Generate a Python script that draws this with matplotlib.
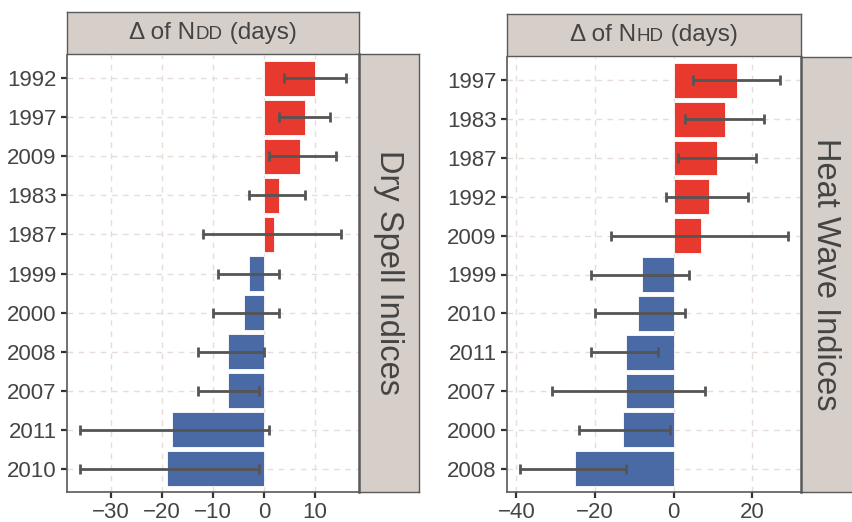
import numpy as np
import matplotlib
matplotlib.use('Agg')
import matplotlib.pyplot as plt
from matplotlib.offsetbox import TextArea, HPacker, AnchoredOffsetbox

plt.rcParams['font.family'] = ['Liberation Sans', 'DejaVu Sans']

# Dry spell (NDD)
dry_years = ['1992', '1997', '2009', '1983', '1987', '1999', '2000', '2008', '2007', '2011', '2010']
dry_vals = [10, 8, 7, 3, 2, -3, -4, -7, -7, -18, -19]
dry_lo = [4, 3, 1, -3, -12, -9, -10, -13, -13, -36, -36]
dry_hi = [16, 13, 14, 8, 15, 3, 3, 0, -1, 1, -1]
dry_xticks = [-30, -20, -10, 0, 10]

# Heat wave (NHD)
heat_years = ['1997', '1983', '1987', '1992', '2009', '1999', '2010', '2011', '2007', '2000', '2008']
heat_vals = [16, 13, 11, 9, 7, -8, -9, -12, -12, -13, -25]
heat_lo = [5, 3, 1, -2, -16, -21, -20, -21, -31, -24, -39]
heat_hi = [27, 23, 21, 19, 29, 4, 3, -4, 8, -1, -12]
heat_xticks = [-40, -20, 0, 20]

RED = '#e8392f'
BLUE = '#4a6aa6'
STRIP = '#d6cec9'
EDGE = '#595959'
TXT = '#444444'
GRID = '#e6dcd8'

W, H = 853, 522
fig = plt.figure(figsize=(W / 100, H / 100), dpi=100)


def px(x0, y0, x1, y1):
    # pixel box -> figure fraction rect
    return [x0 / W, 1 - y1 / H, (x1 - x0) / W, (y1 - y0) / H]


def panel(box, top_box, side_box, years, vals, lo, hi, xticks, sub):
    ax = fig.add_axes(px(*box))
    vals = np.array(vals)
    lo = np.array(lo)
    hi = np.array(hi)
    y = np.arange(len(years))
    colors = [RED if v > 0 else BLUE for v in vals]
    ax.barh(y, vals, height=0.9, color=colors, edgecolor='white', linewidth=0.6, zorder=2)
    ax.errorbar(vals, y, xerr=[vals - lo, hi - vals], fmt='none', ecolor='#555555',
                elinewidth=2, capsize=3.5, capthick=2, zorder=3)

    span = hi.max() - lo.min()
    ax.set_xlim(lo.min() - 0.05 * span, hi.max() + 0.05 * span)
    ax.set_ylim(len(years) - 0.4, -0.6)
    ax.set_yticks(y)
    ax.set_yticklabels(years)
    ax.set_xticks(xticks)
    ax.set_xticklabels([str(t).replace('-', '\u2212') for t in xticks])
    ax.grid(True, linestyle=(0, (4, 4)), color=GRID, linewidth=1.0, zorder=0)
    ax.set_axisbelow(True)
    for s in ['top', 'right']:
        ax.spines[s].set_visible(False)
    for s in ['left', 'bottom']:
        ax.spines[s].set_color(EDGE)
        ax.spines[s].set_linewidth(1.2)
    ax.tick_params(axis='both', colors='#333333', labelcolor=TXT, labelsize=16,
                   length=4, width=1.6)

    # top strip
    st = fig.add_axes(px(*top_box))
    st.set_xticks([])
    st.set_yticks([])
    st.set_facecolor(STRIP)
    for s in st.spines.values():
        s.set_color(EDGE)
        s.set_linewidth(1.0)
    parts = [TextArea('\u0394 of N', textprops=dict(size=17.5, color=TXT)),
             TextArea(sub, textprops=dict(size=13.6, color=TXT)),
             TextArea(' (days)', textprops=dict(size=17.5, color=TXT))]
    pack = HPacker(children=parts, align='baseline', pad=0, sep=0)
    anc = AnchoredOffsetbox(loc='center', child=pack, frameon=False,
                            bbox_to_anchor=(0.5, 0.5), bbox_transform=st.transAxes,
                            borderpad=0, pad=0)
    st.add_artist(anc)

    # side strip
    ss = fig.add_axes(px(*side_box))
    ss.set_xticks([])
    ss.set_yticks([])
    ss.set_facecolor(STRIP)
    for s in ss.spines.values():
        s.set_color(EDGE)
        s.set_linewidth(1.0)
    ss.spines['left'].set_linewidth(1.8)
    return ax


panel((67, 55, 359, 492), (67, 12, 359, 54), (359, 54, 419, 492),
      dry_years, dry_vals, dry_lo, dry_hi, dry_xticks, 'DD')
panel((507, 57, 801, 492), (507, 14, 801, 56), (801, 57, 870, 492),
      heat_years, heat_vals, heat_lo, heat_hi, heat_xticks, 'HD')

fig.text(389 / W, 1 - 273 / H, 'Dry Spell Indices', rotation=-90, ha='center', va='center',
         size=23.5, color=TXT)
fig.text(826 / W, 1 - 274 / H, 'Heat Wave Indices', rotation=-90, ha='center', va='center',
         size=23.5, color=TXT)

fig.savefig('out.png', dpi=100, facecolor='white')
